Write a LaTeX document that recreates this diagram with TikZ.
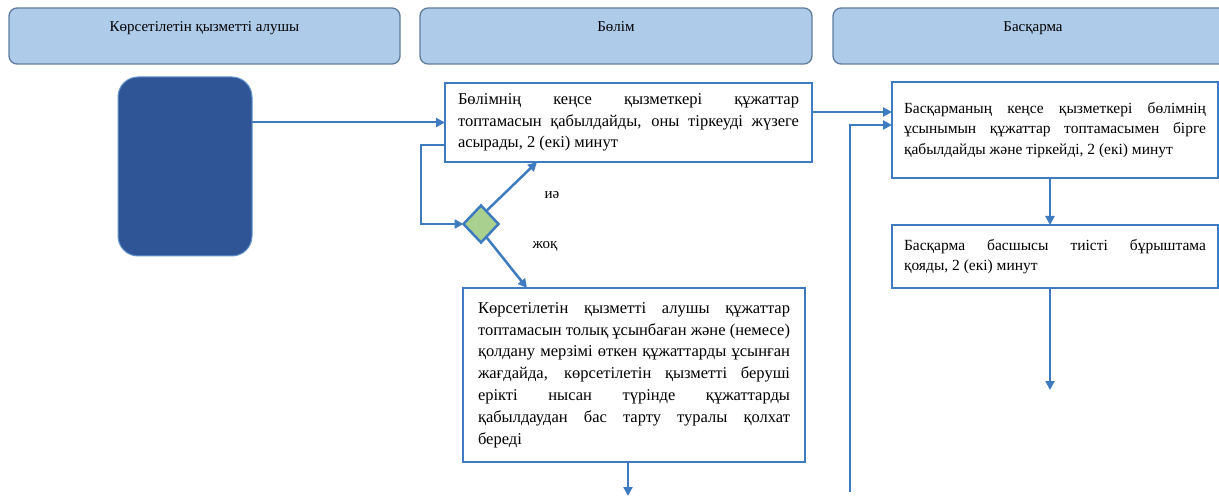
\documentclass[tikz,border=0pt]{standalone}
\usepackage{fontspec}
\setmainfont{Liberation Serif}
\usetikzlibrary{arrows.meta,shapes.geometric,calc}
\definecolor{hdrfill}{HTML}{AFCBEA}
\definecolor{hdrdraw}{HTML}{5F7D9C}
\definecolor{navy}{HTML}{2F5597}
\definecolor{flow}{HTML}{3F7BC1}
\definecolor{dgreen}{HTML}{A9D08E}
\hyphenpenalty=10000
\exhyphenpenalty=10000
\begin{document}
\begin{tikzpicture}[x=1pt,y=-1pt,
  hdr/.style={draw=hdrdraw, line width=1.3pt, fill=hdrfill, rounded corners=8pt,
    anchor=north west, inner xsep=0pt, inner ysep=0pt, outer sep=0pt,
    text height=24pt, text depth=32pt, font=\fontsize{15}{18}\selectfont},
  stepbox/.style={draw=flow, line width=2.5pt, fill=white, anchor=north west,
    align=justify, inner ysep=0pt, outer sep=0pt,
    font=\fontsize{16.5}{21.8}\selectfont},
  sidebox/.style={stepbox, line width=2pt, text width=302pt, inner xsep=12pt,
    font=\fontsize{15.5}{20.5}\selectfont},
  arr/.style={draw=flow, line width=2.5pt, -{Triangle[length=9pt,width=9pt]}},
  lbl/.style={font=\fontsize{15}{18}\selectfont, inner sep=0pt}
]
\useasboundingbox (0,0) rectangle (1219,497);

% headers
\node[hdr, minimum width=391pt] (h1) at (9,8) {Көрсетілетін қызметті алушы};
\node[hdr, minimum width=392pt] (h2) at (420,8) {Бөлім};
\node[hdr, minimum width=400pt] (h3) at (833,8) {Басқарма};

% start block
\node[draw=flow!80, line width=1pt, fill=navy, rounded corners=20pt,
  minimum width=134pt, minimum height=179pt, anchor=north west, outer sep=0pt] (start) at (118,77) {};

% boxes
\node[stepbox, text width=341pt, inner xsep=13pt, minimum height=79pt] (box1) at (445,83)
  {Бөлімнің кеңсе қызметкері құжаттар\linebreak топтамасын қабылдайды, оны тіркеуді жүзеге\linebreak асырады, 2 (екі) минут};

\node[stepbox, text width=312pt, inner xsep=15pt, minimum height=174pt] (box2) at (463,288)
  {Көрсетілетін қызметті алушы құжаттар\linebreak топтамасын толық ұсынбаған және (немесе)\linebreak қолдану мерзімі өткен құжаттарды ұсынған\linebreak жағдайда, көрсетілетін қызметті беруші\linebreak ерікті нысан түрінде құжаттарды\linebreak қабылдаудан бас тарту туралы қолхат\linebreak береді};

\node[sidebox, minimum height=96pt] (box3) at (892,82)
  {Басқарманың кеңсе қызметкері бөлімнің\linebreak ұсынымын құжаттар топтамасымен бірге\linebreak қабылдайды және тіркейді, 2 (екі) минут\par\vspace{12pt}};

\node[sidebox, minimum height=63pt] (box4) at (892,225)
  {Басқарма басшысы тиісті бұрыштама\linebreak қояды, 2 (екі) минут};

% decision
\node[diamond, draw=flow, fill=dgreen, line width=2.5pt, minimum width=35pt,
  minimum height=37pt, inner sep=0pt, outer sep=0pt] (dia) at (481,224) {};

\node[lbl] (yes) at (552,195) {иә};
\node[lbl] (no) at (545,246) {жоқ};

% connectors
\draw[arr, line width=2pt] (start.east |- box1.west) -- (box1.west);

\coordinate (o1) at ([yshift=10.5pt]box1.east);
\draw[arr] (o1) -- (o1 -| box3.west);

\coordinate (l1) at ([yshift=-22.5pt]box1.west);
\draw[arr] (l1) -- ++(-24,0) |- (dia.west);

\draw[arr] ($(dia.north)!0.3!(dia.east)$) -- ([xshift=-91.5pt]box1.south);
\draw[arr] ($(dia.south)!0.3!(dia.east)$) -- ([xshift=-107pt]box2.north);

\coordinate (e1) at (628,496);
\draw[arr] (box2.south -| e1) -- (e1);

\draw[arr, line width=2pt] ([xshift=-5pt]box3.south) -- ([xshift=-5pt]box4.north);

\coordinate (e2) at (1050,390);
\draw[arr, line width=2pt] (box4.south -| e2) -- (e2);

\coordinate (s2) at (850,492);
\draw[arr] (s2) |- ([yshift=5pt]box3.west);
\end{tikzpicture}
\end{document}
